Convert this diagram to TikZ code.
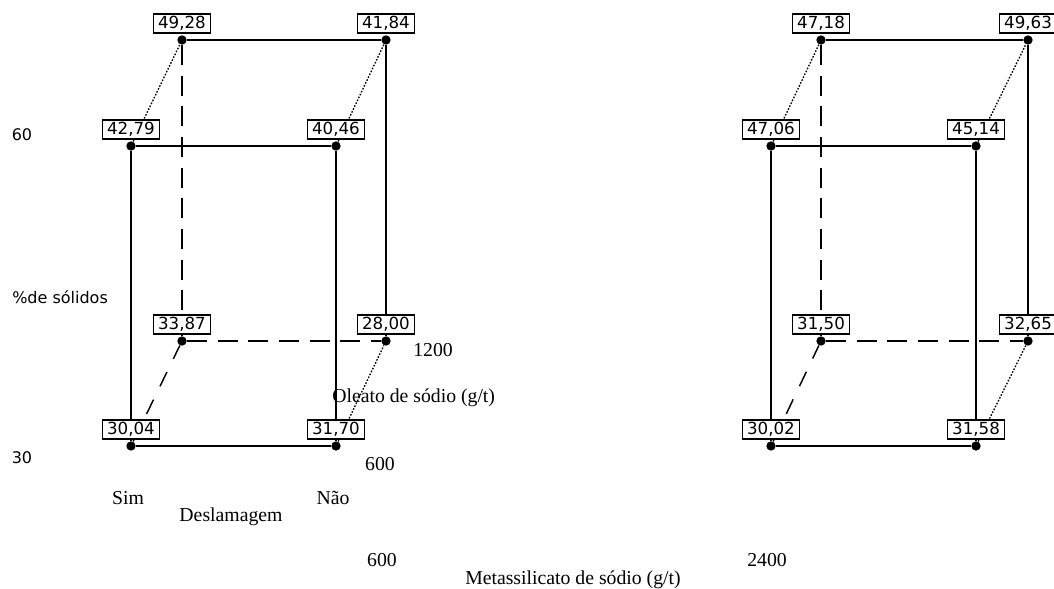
\documentclass[tikz,border=0pt]{standalone}
\usepackage{fontspec}
\setmainfont{Liberation Serif}
\newfontfamily\valfont{DejaVu Sans}
\usetikzlibrary{positioning}

\begin{document}
\begin{tikzpicture}[x=0.75pt,y=-0.75pt,
  corner/.style={circle,fill,inner sep=0pt,minimum size=7pt},
  val/.style={draw,fill=white,line width=1pt,inner sep=0pt,minimum width=42.75pt,minimum height=14.25pt,font=\valfont\fontsize{12.5}{14}\selectfont},
  face/.style={line width=1.4pt},
  depth/.style={line width=1pt,dash pattern=on 1.2pt off 1.2pt},
  hidden/.style={line width=1.4pt,dash pattern=on 15pt off 8pt},
  hiddep/.style={line width=1.1pt,dash pattern=on 12pt off 11pt},
  axis/.style={font=\fontsize{14.8}{16}\selectfont,inner sep=0pt},
  side/.style={font=\valfont\fontsize{12}{14}\selectfont,inner sep=0pt}]
 \useasboundingbox (0,0) rectangle (1054,589);
 % left cube
 \node[corner] (LFTL) at (131,146) {};
 \node[corner] (LFTR) at (336,146) {};
 \node[corner] (LFBL) at (131,446) {};
 \node[corner] (LFBR) at (336,446) {};
 \node[corner] (LBTL) at (182,40) {};
 \node[corner] (LBTR) at (386,40) {};
 \node[corner] (LBBL) at (182,341) {};
 \node[corner] (LBBR) at (386,341) {};
 \draw[face] (LFTL) -- (LFTR) -- (LFBR) -- (LFBL) -- (LFTL);
 \draw[face] (LBTL) -- (LBTR) -- (LBBR);
 \draw[depth] (LFTL) -- (LBTL);
 \draw[depth] (LFTR) -- (LBTR);
 \draw[depth] (LFBR) -- (LBBR);
 \draw[hidden] (LBTL) -- (LBBL) -- (LBBR);
 \draw[hiddep] (LFBL) -- (LBBL);
 \node[val,above=1pt of LFTL] (vLFTL) {42,79};
 \node[val,above=1pt of LFTR] (vLFTR) {40,46};
 \node[val,above=1pt of LFBL] (vLFBL) {30,04};
 \node[val,above=1pt of LFBR] (vLFBR) {31,70};
 \node[val,above=1pt of LBTL] (vLBTL) {49,28};
 \node[val,above=1pt of LBTR] (vLBTR) {41,84};
 \node[val,above=1pt of LBBL] (vLBBL) {33,87};
 \node[val,above=1pt of LBBR] (vLBBR) {28,00};
 % right cube
 \node[corner] (RFTL) at (771,146) {};
 \node[corner] (RFTR) at (976,146) {};
 \node[corner] (RFBL) at (771,446) {};
 \node[corner] (RFBR) at (976,446) {};
 \node[corner] (RBTL) at (821,40) {};
 \node[corner] (RBTR) at (1028,40) {};
 \node[corner] (RBBL) at (821,341) {};
 \node[corner] (RBBR) at (1028,341) {};
 \draw[face] (RFTL) -- (RFTR) -- (RFBR) -- (RFBL) -- (RFTL);
 \draw[face] (RBTL) -- (RBTR) -- (RBBR);
 \draw[depth] (RFTL) -- (RBTL);
 \draw[depth] (RFTR) -- (RBTR);
 \draw[depth] (RFBR) -- (RBBR);
 \draw[hidden] (RBTL) -- (RBBL) -- (RBBR);
 \draw[hiddep] (RFBL) -- (RBBL);
 \node[val,above=1pt of RFTL] (vRFTL) {47,06};
 \node[val,above=1pt of RFTR] (vRFTR) {45,14};
 \node[val,above=1pt of RFBL] (vRFBL) {30,02};
 \node[val,above=1pt of RFBR] (vRFBR) {31,58};
 \node[val,above=1pt of RBTL] (vRBTL) {47,18};
 \node[val,above=1pt of RBTR] (vRBTR) {49,63};
 \node[val,above=1pt of RBBL] (vRBBL) {31,50};
 \node[val,above=1pt of RBBR] (vRBBR) {32,65};
 % factor levels and names
 \node[side] (sol60) at (22,135) {60};
 \node[side,anchor=west] (sol) at (12,297) {\%de sólidos};
 \node[side] (sol30) at (22,458) {30};
 \node[axis] (ole1200) at (433,350) {1200};
 \node[axis,anchor=west] (ole) at (332,398) {Oleato de sódio (g/t)};
 \node[axis] (ole600) at (380,464) {600};
 \node[axis] (dsim) at (128,498) {Sim};
 \node[axis] (dnao) at (333,498) {Não};
 \node[axis] (des) at (231,517) {Deslamagem};
 \node[axis] (met600) at (382,560) {600};
 \node[axis,anchor=west] (met) at (465,580) {Metassilicato de sódio (g/t)};
 \node[axis] (met2400) at (767,560) {2400};
\end{tikzpicture}
\end{document}
